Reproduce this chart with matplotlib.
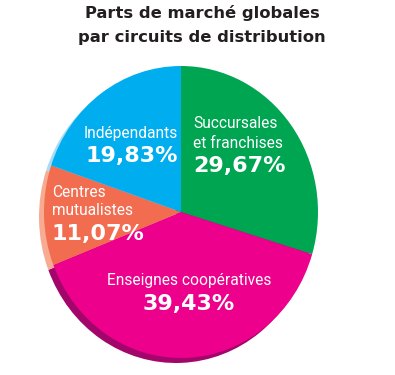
import matplotlib
matplotlib.use("Agg")
import matplotlib.pyplot as plt

# ----- data -----
labels = ["Succursales\net franchises", "Enseignes coopératives", "Centres\nmutualistes", "Indépendants"]
shares = [29.67, 39.43, 11.07, 19.83]
colors = ["#00a551", "#ec008c", "#f26c4f", "#00aeef"]
rim_colors = ["#0b6b36", "#a3066a", "#f7ab90", "#a6dcf5"]
pct_text = ["29,67%", "39,43%", "11,07%", "19,83%"]

W, H = 395, 375
fig = plt.figure(figsize=(W / 100, H / 100), dpi=100)
ax = fig.add_axes([0, 0, 1, 1])

# pie is slightly taller than wide (perspective look)
rx, ry = 137, 146
k = ry / rx
cx, cy = 181, (H - 212) / k

# ----- 3D rim (shifted copy underneath) -----
ax.pie(shares, colors=rim_colors, startangle=90, counterclock=False,
       center=(cx - 5, cy - 5 / k), radius=rx, wedgeprops=dict(linewidth=0))
# ----- main pie -----
ax.pie(shares, colors=colors, startangle=90, counterclock=False,
       center=(cx, cy), radius=rx, wedgeprops=dict(linewidth=0))

ax.set_aspect("auto")
ax.set_xlim(0, W)
ax.set_ylim(0, H / k)
ax.axis("off")

# ----- text -----
def put(x, y, s, **kw):
    fig.text(x / W, 1 - y / H, s, va="baseline", **kw)

pct_kw = dict(color="white", fontsize=16, fontweight="bold", family="DejaVu Sans")
lab_kw = dict(color="white", fontsize=11.2, family="Roboto")

put(202, 18, "Parts de marché globales", ha="center", fontsize=11.8,
    fontweight="bold", color="#231f20")
put(202, 42, "par circuits de distribution", ha="center", fontsize=11.8,
    fontweight="bold", color="#231f20")

# Succursales
put(193, 128, "Succursales", ha="left", **lab_kw)
put(193, 148, "et franchises", ha="left", **lab_kw)
put(193, 172, pct_text[0], ha="left", **pct_kw)
# Enseignes
put(189, 285, labels[1], ha="center", **lab_kw)
put(189, 310, pct_text[1], ha="center", **pct_kw)
# Centres
put(52, 197, "Centres", ha="left", **lab_kw)
put(52, 215, "mutualistes", ha="left", **lab_kw)
put(52, 240, pct_text[2], ha="left", **pct_kw)
# Indépendants
put(131, 138, labels[3], ha="center", **lab_kw)
put(132, 162, pct_text[3], ha="center", **pct_kw)

fig.savefig("out.png", dpi=100)
